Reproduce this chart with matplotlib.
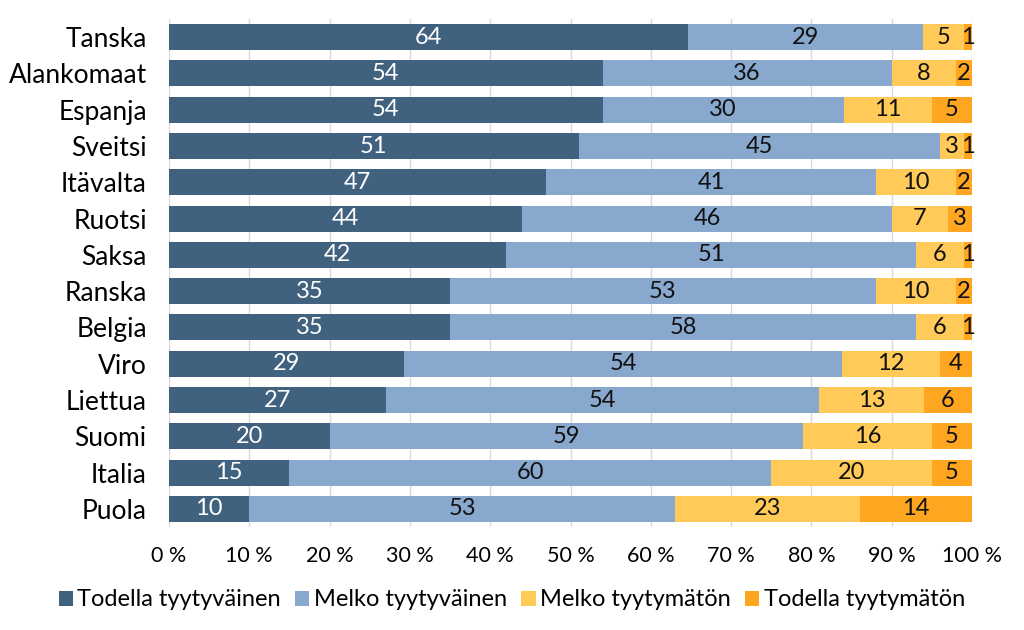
import numpy as np
import matplotlib
matplotlib.use("Agg")
from matplotlib import pyplot as plt

plt.rcParams['font.family'] = ['Lato', 'DejaVu Sans']

maat = ["Tanska", "Alankomaat", "Espanja", "Sveitsi", "Itävalta", "Ruotsi", "Saksa",
        "Ranska", "Belgia", "Viro", "Liettua", "Suomi", "Italia", "Puola"]
todella_tyyt = [64, 54, 54, 51, 47, 44, 42, 35, 35, 29, 27, 20, 15, 10]
melko_tyyt = [29, 36, 30, 45, 41, 46, 51, 53, 58, 54, 54, 59, 60, 53]
melko_tyytm = [5, 8, 11, 3, 10, 7, 6, 10, 6, 12, 13, 16, 20, 23]
todella_tyytm = [1, 2, 5, 1, 2, 3, 1, 2, 1, 4, 6, 5, 5, 14]

sarjat = ["Todella tyytyväinen", "Melko tyytyväinen", "Melko tyytymätön", "Todella tyytymätön"]
varit = ["#41627f", "#88a8ce", "#ffca58", "#ffa621"]
tekstivarit = ["white", "#111111", "#111111", "#111111"]

data = np.array([todella_tyyt, melko_tyyt, melko_tyytm, todella_tyytm], dtype=float)
osuus = data / data.sum(axis=0)  # 100 % pinottu

fig = plt.figure(figsize=(10.24, 6.3), dpi=100)
ax = fig.add_axes([169/1024, 1 - 527/630, 803/1024, 508/630])

y = np.arange(len(maat))
vasen = np.zeros(len(maat))
for i in range(4):
    ax.barh(y, osuus[i], left=vasen, height=0.72, color=varit[i], label=sarjat[i], zorder=2)
    for j in range(len(maat)):
        ax.text(vasen[j] + osuus[i][j] / 2, y[j], str(int(data[i][j])), ha='center', va='center',
                color=tekstivarit[i], fontsize=17, zorder=3)
    vasen += osuus[i]

ax.set_ylim(len(maat) - 0.5, -0.5)
ax.set_xlim(0, 1)
ax.set_yticks(y)
ax.set_yticklabels(maat, fontsize=19)
ax.set_xticks(np.linspace(0, 1, 11))
ax.set_xticklabels([f"{k} %" for k in range(0, 101, 10)], fontsize=15.5)
ax.tick_params(length=0, pad=8)
ax.tick_params(axis='y', pad=16)
ax.tick_params(axis='x', pad=14)
ax.grid(axis='x', color='#d9d9d9', lw=1, zorder=0)
for s in ax.spines.values():
    s.set_visible(False)

fig.legend(loc='center', bbox_to_anchor=(0.5, 1 - 600/630), ncol=4, frameon=False, fontsize=17,
           handlelength=0.6, handleheight=0.6, handletextpad=0.2, columnspacing=0.6)

plt.savefig("out.png", dpi=100)
